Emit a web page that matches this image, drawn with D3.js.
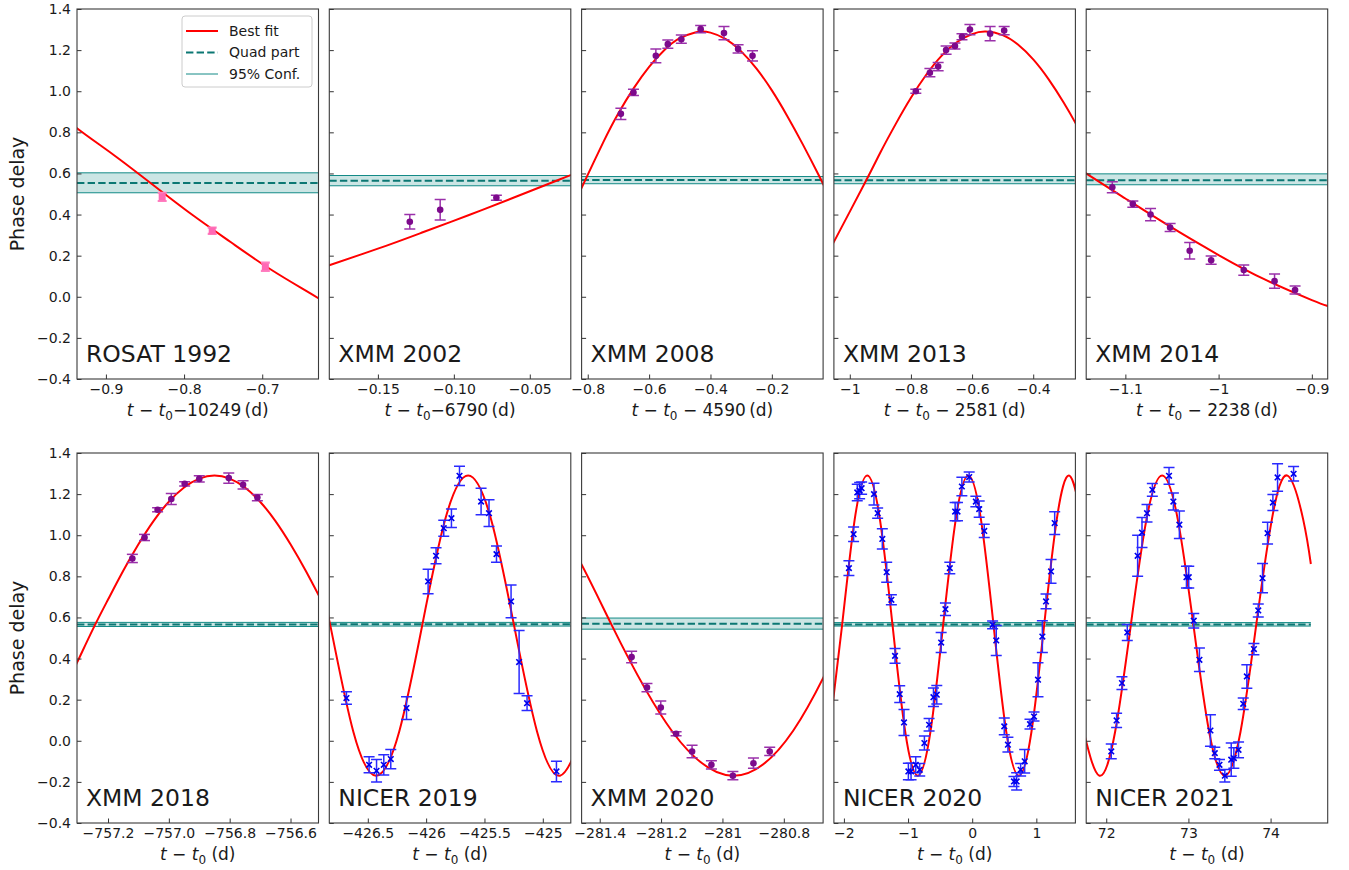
<!DOCTYPE html>
<html>
<head>
<meta charset="utf-8">
<script src="https://cdn.jsdelivr.net/npm/d3@7"></script>
<style>
  body { margin: 0; background: #fff; }
  svg text { font-family: "DejaVu Sans", sans-serif; fill: #1a1a1a; }
</style>
</head>
<body>
<svg id="chart" width="1349" height="870"></svg>
<script>
// ---- panel meta ----
const panelNames = ["ROSAT 1992", "XMM 2002", "XMM 2008", "XMM 2013", "XMM 2014",
                    "XMM 2018", "NICER 2019", "XMM 2020", "NICER 2020", "NICER 2021"];
const pointKinds = ["rosat", "xmm", "xmm", "xmm", "xmm", "xmm", "nicer", "xmm", "nicer", "nicer"];
const xDomains = [[-0.937, -0.628], [-0.182, -0.023], [-0.82, -0.033], [-1.052, -0.262], [-1.142, -0.883],
                  [-757.302, -756.508], [-426.83, -424.76], [-281.459, -280.672], [-2.156, 1.609], [71.756, 74.695]];
const xTickValues = [[-0.9, -0.8, -0.7], [-0.15, -0.10, -0.05], [-0.8, -0.6, -0.4, -0.2], [-1, -0.8, -0.6, -0.4], [-1.1, -1, -0.9],
                     [-757.2, -757.0, -756.8, -756.6], [-426.5, -426, -425.5, -425], [-281.4, -281.2, -281, -280.8], [-2, -1, 0, 1], [72, 73, 74]];
const xTickLabels = [["−0.9", "−0.8", "−0.7"], ["−0.15", "−0.10", "−0.05"], ["−0.8", "−0.6", "−0.4", "−0.2"], ["−1", "−0.8", "−0.6", "−0.4"], ["−1.1", "−1", "−0.9"],
                     ["−757.2", "−757.0", "−756.8", "−756.6"], ["−426.5", "−426", "−425.5", "−425"], ["−281.4", "−281.2", "−281", "−280.8"], ["−2", "−1", "0", "1"], ["72", "73", "74"]];
const xTitleSuffix = ["−10249\u2009(d)", "−6790\u2009(d)", " − 4590\u2009(d)", " − 2581\u2009(d)", " − 2238\u2009(d)",
                      " (d)", " (d)", " (d)", " (d)", " (d)"];
const yTickValues = [-0.4, -0.2, 0.0, 0.2, 0.4, 0.6, 0.8, 1.0, 1.2, 1.4];

// quadratic part and its 95% band
const quadLevels = [0.554, 0.565, 0.568, 0.567, 0.567, 0.566, 0.567, 0.569, 0.566, 0.566];
const confLow  = [0.506, 0.540, 0.550, 0.550, 0.545, 0.556, 0.558, 0.543, 0.558, 0.558];
const confHigh = [0.603, 0.590, 0.585, 0.585, 0.598, 0.576, 0.576, 0.597, 0.575, 0.575];

// ---- measured points [t, phase, err] ----
const rosat1992Points = [[-0.828, 0.486, 0.02], [-0.764, 0.321, 0.015], [-0.696, 0.146, 0.02]];
const xmm2002Points = [[-0.129, 0.365, 0.035], [-0.109, 0.423, 0.05], [-0.072, 0.482, 0.012]];
const xmm2008Points = [[-0.692, 0.890, 0.027], [-0.651, 0.994, 0.015], [-0.578, 1.172, 0.034], [-0.539, 1.229, 0.02],
  [-0.495, 1.253, 0.02], [-0.432, 1.302, 0.018], [-0.356, 1.283, 0.032], [-0.310, 1.206, 0.02], [-0.263, 1.172, 0.025]];
const xmm2013Points = [[-0.784, 1.00, 0.01], [-0.738, 1.09, 0.02], [-0.711, 1.12, 0.02], [-0.685, 1.20, 0.02],
  [-0.656, 1.22, 0.015], [-0.633, 1.265, 0.015], [-0.607, 1.30, 0.025], [-0.541, 1.28, 0.035], [-0.495, 1.295, 0.02]];
const xmm2014Points = [[-1.114, 0.533, 0.027], [-1.092, 0.451, 0.015], [-1.073, 0.400, 0.03], [-1.052, 0.337, 0.02],
  [-1.031, 0.224, 0.04], [-1.008, 0.178, 0.02], [-0.973, 0.130, 0.025], [-0.940, 0.076, 0.035], [-0.918, 0.033, 0.02]];
const xmm2018Points = [[-757.120, 0.887, 0.02], [-757.080, 0.989, 0.015], [-757.037, 1.124, 0.01], [-756.992, 1.176, 0.027],
  [-756.948, 1.250, 0.01], [-756.900, 1.274, 0.015], [-756.803, 1.278, 0.025], [-756.756, 1.245, 0.02], [-756.709, 1.183, 0.015]];
const nicer2019Points = [[-426.683, 0.208, 0.03], [-426.489, -0.117, 0.039], [-426.425, -0.146, 0.055], [-426.363, -0.117, 0.049],
  [-426.303, -0.089, 0.047], [-426.168, 0.159, 0.055], [-425.983, 0.775, 0.06], [-425.915, 0.900, 0.039], [-425.849, 1.034, 0.039],
  [-425.783, 1.083, 0.045], [-425.714, 1.289, 0.047], [-425.529, 1.164, 0.064], [-425.461, 1.107, 0.065], [-425.397, 0.908, 0.04],
  [-425.272, 0.678, 0.08], [-425.203, 0.383, 0.153], [-425.135, 0.183, 0.036], [-424.883, -0.149, 0.05]];
const xmm2020Points = [[-281.296, 0.407, 0.028], [-281.246, 0.259, 0.02], [-281.201, 0.162, 0.032], [-281.151, 0.034, 0.01],
  [-281.099, -0.052, 0.03], [-281.036, -0.117, 0.02], [-280.966, -0.170, 0.02], [-280.899, -0.109, 0.025], [-280.846, -0.052, 0.02]];
const nicer2020Points = [[-1.922, 0.840, 0.036], [-1.849, 1.005, 0.035], [-1.792, 1.208, 0.04], [-1.755, 1.217, 0.04],
  [-1.724, 1.229, 0.03], [-1.531, 1.200, 0.053], [-1.474, 1.107, 0.025], [-1.401, 0.982, 0.049], [-1.333, 0.820, 0.049],
  [-1.260, 0.686, 0.024], [-1.203, 0.413, 0.036], [-1.130, 0.227, 0.041], [-1.063, 0.089, 0.063], [-0.995, -0.149, 0.04],
  [-0.953, -0.149, 0.04], [-0.880, -0.117, 0.039], [-0.818, -0.141, 0.03], [-0.745, -0.011, 0.034], [-0.672, 0.078, 0.03],
  [-0.604, 0.212, 0.045], [-0.552, 0.224, 0.045], [-0.484, 0.478, 0.049], [-0.417, 0.640, 0.03], [-0.349, 0.840, 0.028],
  [-0.266, 1.115, 0.044], [-0.229, 1.115, 0.044], [-0.161, 1.237, 0.045], [-0.047, 1.283, 0.024], [0.057, 1.164, 0.026],
  [0.109, 1.127, 0.04], [0.188, 1.021, 0.032], [0.318, 0.564, 0.019], [0.375, 0.488, 0.073], [0.500, 0.070, 0.041],
  [0.557, -0.019, 0.036], [0.651, -0.198, 0.024], [0.693, -0.198, 0.042], [0.755, -0.141, 0.03], [0.818, -0.100, 0.057],
  [0.901, 0.081, 0.024], [0.964, 0.118, 0.022], [1.026, 0.297, 0.083], [1.094, 0.507, 0.077], [1.151, 0.678, 0.036],
  [1.229, 0.824, 0.058], [1.286, 1.059, 0.055]];
const nicer2021Points = [[72.061, -0.052, 0.036], [72.126, 0.099, 0.035], [72.191, 0.281, 0.031], [72.256, 0.527, 0.039],
  [72.382, 0.900, 0.10], [72.435, 1.013, 0.073], [72.496, 1.107, 0.043], [72.561, 1.221, 0.031], [72.764, 1.289, 0.041],
  [72.817, 1.164, 0.041], [72.890, 1.051, 0.067], [72.976, 0.796, 0.053], [73.004, 0.796, 0.053], [73.065, 0.584, 0.035],
  [73.134, 0.394, 0.057], [73.268, 0.050, 0.077], [73.321, -0.060, 0.028], [73.378, -0.117, 0.026], [73.443, -0.170, 0.03],
  [73.521, -0.092, 0.081], [73.553, -0.084, 0.05], [73.610, -0.044, 0.038], [73.667, 0.180, 0.028], [73.711, 0.313, 0.057],
  [73.797, 0.446, 0.027], [73.850, 0.634, 0.032], [73.902, 0.791, 0.071], [73.963, 1.010, 0.053], [74.028, 1.159, 0.039],
  [74.085, 1.281, 0.067], [74.280, 1.299, 0.035]];

// ---- best-fit curve [t, phase] ----
const rosat1992Fit = [[-0.96, 0.90], [-0.937, 0.82], [-0.89, 0.69], [-0.84, 0.545], [-0.79, 0.40], [-0.74, 0.265],
  [-0.69, 0.135], [-0.64, 0.02], [-0.61, -0.05]];
const xmm2002Fit = [[-0.19, 0.13], [-0.182, 0.153], [-0.15, 0.234], [-0.12, 0.315], [-0.09, 0.398], [-0.06, 0.484],
  [-0.03, 0.572], [-0.015, 0.615]];
const xmm2008Fit = [[-0.84, 0.47], [-0.82, 0.53], [-0.75, 0.75], [-0.70, 0.893], [-0.65, 1.015], [-0.60, 1.119], [-0.55, 1.201],
  [-0.50, 1.258], [-0.45, 1.286], [-0.43, 1.29], [-0.40, 1.285], [-0.35, 1.253], [-0.30, 1.194], [-0.25, 1.110], [-0.20, 1.004],
  [-0.15, 0.880], [-0.10, 0.744], [-0.05, 0.600], [-0.02, 0.51]];
const xmm2013Fit = [[-1.06, 0.24], [-1.052, 0.267], [-0.95, 0.556], [-0.90, 0.702], [-0.85, 0.840], [-0.80, 0.968], [-0.75, 1.080],
  [-0.70, 1.172], [-0.65, 1.238], [-0.60, 1.278], [-0.555, 1.29], [-0.50, 1.273], [-0.45, 1.227], [-0.40, 1.155], [-0.35, 1.059],
  [-0.30, 0.944], [-0.262, 0.846], [-0.25, 0.81]];
const xmm2014Fit = [[-1.15, 0.63], [-1.142, 0.600], [-1.10, 0.478], [-1.05, 0.336], [-1.00, 0.203], [-0.95, 0.083],
  [-0.90, -0.016], [-0.883, -0.045], [-0.87, -0.065]];
const xmm2018Fit = [[-757.32, 0.33], [-757.302, 0.38], [-757.25, 0.542], [-757.20, 0.687], [-757.15, 0.827], [-757.10, 0.956],
  [-757.05, 1.070], [-757.00, 1.163], [-756.95, 1.232], [-756.90, 1.275], [-756.85, 1.29], [-756.80, 1.275], [-756.75, 1.232],
  [-756.70, 1.163], [-756.65, 1.070], [-756.60, 0.956], [-756.55, 0.827], [-756.50, 0.687]];
const nicer2019Fit = [[-427.018, 1.076], [-426.821, 0.56], [-426.624, 0.044], [-426.428, -0.17], [-426.231, 0.044],
  [-426.034, 0.56], [-425.837, 1.076], [-425.64, 1.29], [-425.443, 1.076], [-425.246, 0.56], [-425.049, 0.044],
  [-424.853, -0.17], [-424.656, 0.044]];
const xmm2020Fit = [[-281.754, 1.32], [-281.557, 1.10], [-281.36, 0.56], [-281.163, 0.044], [-280.966, -0.17],
  [-280.769, 0.05], [-280.572, 0.62]];
const nicer2020Fit = [[-2.226, 0.044], [-2.029, 0.56], [-1.832, 1.076], [-1.635, 1.29], [-1.438, 1.076], [-1.241, 0.56],
  [-1.044, 0.044], [-0.848, -0.17], [-0.651, 0.044], [-0.454, 0.56], [-0.257, 1.076], [-0.06, 1.29], [0.137, 1.076],
  [0.334, 0.56], [0.531, 0.044], [0.728, -0.17], [0.924, 0.044], [1.121, 0.56], [1.318, 1.076], [1.515, 1.29], [1.712, 1.076]];
const nicer2021Fit = [[71.726, 0.044], [71.917, -0.17], [72.108, 0.044], [72.298, 0.56], [72.489, 1.076], [72.68, 1.29],
  [72.871, 1.076], [73.062, 0.56], [73.252, 0.044], [73.443, -0.17], [73.634, 0.044], [73.824, 0.56], [74.015, 1.076],
  [74.206, 1.29], [74.397, 1.076], [74.49, 0.86]];

const pointSets = [rosat1992Points, xmm2002Points, xmm2008Points, xmm2013Points, xmm2014Points,
                   xmm2018Points, nicer2019Points, xmm2020Points, nicer2020Points, nicer2021Points];
const fitSets = [rosat1992Fit, xmm2002Fit, xmm2008Fit, xmm2013Fit, xmm2014Fit,
                 xmm2018Fit, nicer2019Fit, xmm2020Fit, nicer2020Fit, nicer2021Fit];

// ---- layout ----
const panelLeft = 77, panelStep = 252.3, panelW = 241.5, panelH = 370;
const rowTop = [9, 453];
const teal = '#138a86', tealDark = '#0b7773';
const kindStyle = {
  rosat: { marker: '#ff69b4', bar: '#ff7fc0' },
  xmm: { marker: '#7d0a8c', bar: '#9a30aa' },
  nicer: { marker: '#0000ee', bar: '#2a2aff' }
};

const svg = d3.select('#chart');
svg.append('rect').attr('width', 1349).attr('height', 870).attr('fill', '#fff');

const y = d3.scaleLinear().domain([-0.4, 1.4]).range([panelH, 0]);

panelNames.forEach((name, i) => {
  const col = i % 5, row = Math.floor(i / 5);
  const x0 = panelLeft + col * panelStep, y0 = rowTop[row];
  const g = svg.append('g').attr('transform', `translate(${x0},${y0})`);
  const x = d3.scaleLinear().domain(xDomains[i]).range([0, panelW]);
  const fit = fitSets[i];
  const style = kindStyle[pointKinds[i]];

  const clipId = 'clip' + i;
  g.append('clipPath').attr('id', clipId)
    .append('rect').attr('width', panelW).attr('height', panelH);
  const inner = g.append('g').attr('clip-path', `url(#${clipId})`);

  // band + quad part span the fitted stretch
  const bx0 = Math.max(0, x(fit[0][0]));
  const bx1 = Math.min(panelW, x(fit[fit.length - 1][0]));
  inner.append('rect')
    .attr('x', bx0).attr('width', bx1 - bx0)
    .attr('y', y(confHigh[i])).attr('height', y(confLow[i]) - y(confHigh[i]))
    .attr('fill', teal).attr('fill-opacity', 0.22);
  [confLow[i], confHigh[i]].forEach(v => {
    inner.append('line')
      .attr('x1', bx0).attr('x2', bx1).attr('y1', y(v)).attr('y2', y(v))
      .attr('stroke', teal).attr('stroke-width', 1);
  });
  inner.append('line')
    .attr('x1', bx0).attr('x2', bx1).attr('y1', y(quadLevels[i])).attr('y2', y(quadLevels[i]))
    .attr('stroke', tealDark).attr('stroke-width', 2).attr('stroke-dasharray', '7.4,3.2');

  // best fit
  const line = d3.line().x(d => x(d[0])).y(d => y(d[1])).curve(d3.curveNatural);
  inner.append('path').datum(fit)
    .attr('d', line).attr('fill', 'none').attr('stroke', '#ff0000').attr('stroke-width', 2);

  // error bars
  const pts = pointSets[i];
  const capW = pointKinds[i] === 'rosat' ? 4.5 : 5.5;
  const bars = inner.selectAll('g.eb').data(pts).enter().append('g').attr('class', 'eb')
    .attr('stroke', style.bar).attr('stroke-width', pointKinds[i] === 'rosat' ? 2.2 : 1.5);
  bars.append('line')
    .attr('x1', d => x(d[0])).attr('x2', d => x(d[0]))
    .attr('y1', d => y(d[1] - d[2])).attr('y2', d => y(d[1] + d[2]));
  bars.append('line')
    .attr('x1', d => x(d[0]) - capW).attr('x2', d => x(d[0]) + capW)
    .attr('y1', d => y(d[1] - d[2])).attr('y2', d => y(d[1] - d[2]));
  bars.append('line')
    .attr('x1', d => x(d[0]) - capW).attr('x2', d => x(d[0]) + capW)
    .attr('y1', d => y(d[1] + d[2])).attr('y2', d => y(d[1] + d[2]));

  // markers
  if (pointKinds[i] === 'rosat') {
    inner.selectAll('rect.pt').data(pts).enter().append('rect').attr('class', 'pt')
      .attr('x', d => x(d[0]) - 3.5).attr('y', d => y(d[1]) - 3.5)
      .attr('width', 7).attr('height', 7).attr('fill', style.marker);
  } else if (pointKinds[i] === 'xmm') {
    inner.selectAll('circle.pt').data(pts).enter().append('circle').attr('class', 'pt')
      .attr('cx', d => x(d[0])).attr('cy', d => y(d[1])).attr('r', 3.3).attr('fill', style.marker);
  } else {
    inner.selectAll('path.pt').data(pts).enter().append('path').attr('class', 'pt')
      .attr('d', d => {
        const cx = x(d[0]), cy = y(d[1]), s = 2.8;
        return `M${cx - s},${cy - s}L${cx + s},${cy + s}M${cx - s},${cy + s}L${cx + s},${cy - s}`;
      })
      .attr('stroke', style.marker).attr('stroke-width', 1.6);
  }

  // axes (ticks pointing inward)
  const xAxis = d3.axisBottom(x).tickValues(xTickValues[i])
    .tickFormat((d, k) => xTickLabels[i][k]).tickSizeInner(-4.5).tickSizeOuter(0).tickPadding(5);
  const gx = g.append('g').attr('transform', `translate(0,${panelH})`).call(xAxis);
  gx.select('.domain').remove();
  gx.selectAll('line').attr('stroke', '#333');
  gx.selectAll('text').attr('font-size', 14).attr('fill', '#1a1a1a')
    .attr('font-family', '"DejaVu Sans", sans-serif');

  const yAxis = d3.axisLeft(y).tickValues(yTickValues)
    .tickFormat(col === 0 ? d3.format('.1f') : () => '').tickSizeInner(-4.5).tickSizeOuter(0).tickPadding(6);
  const gy = g.append('g').call(yAxis);
  gy.select('.domain').remove();
  gy.selectAll('line').attr('stroke', '#333');
  gy.selectAll('text').attr('font-size', 14).attr('fill', '#1a1a1a')
    .attr('font-family', '"DejaVu Sans", sans-serif');

  // frame
  g.append('rect').attr('width', panelW).attr('height', panelH)
    .attr('fill', 'none').attr('stroke', '#3a3a3a').attr('stroke-width', 1.1);

  // panel name
  g.append('text').attr('x', 9).attr('y', panelH - 17)
    .attr('font-size', 23.5).text(name);

  // x title: t − t0 ...
  const xt = g.append('text').attr('x', panelW / 2).attr('y', panelH + 37)
    .attr('text-anchor', 'middle').attr('font-size', 17);
  xt.append('tspan').attr('font-style', 'italic').text('t');
  xt.append('tspan').text(' − ');
  xt.append('tspan').attr('font-style', 'italic').text('t');
  xt.append('tspan').attr('font-size', 12).attr('dy', 4).text('0');
  xt.append('tspan').attr('dy', -4).text(xTitleSuffix[i]);

  if (col === 0) {
    svg.append('text')
      .attr('transform', `translate(24,${y0 + panelH / 2}) rotate(-90)`)
      .attr('text-anchor', 'middle').attr('font-size', 19).text('Phase delay');
  }

  // legend on the first panel
  if (i === 0) {
    const lg = g.append('g').attr('transform', 'translate(105,7)');
    lg.append('rect').attr('width', 130).attr('height', 71).attr('rx', 3)
      .attr('fill', '#fff').attr('fill-opacity', 0.85).attr('stroke', '#cccccc');
    const rows = [
      { label: 'Best fit', color: '#ff0000', width: 2, dash: null },
      { label: 'Quad part', color: tealDark, width: 2, dash: '7.4,3.2' },
      { label: '95% Conf.', color: teal, width: 1, dash: null }
    ];
    rows.forEach((r, k) => {
      const ry = 15 + k * 21.5;
      lg.append('line').attr('x1', 4).attr('x2', 36).attr('y1', ry).attr('y2', ry)
        .attr('stroke', r.color).attr('stroke-width', r.width)
        .attr('stroke-dasharray', r.dash);
      lg.append('text').attr('x', 47).attr('y', ry).attr('dy', '0.35em')
        .attr('font-size', 14).text(r.label);
    });
  }
});
</script>
</body>
</html>
